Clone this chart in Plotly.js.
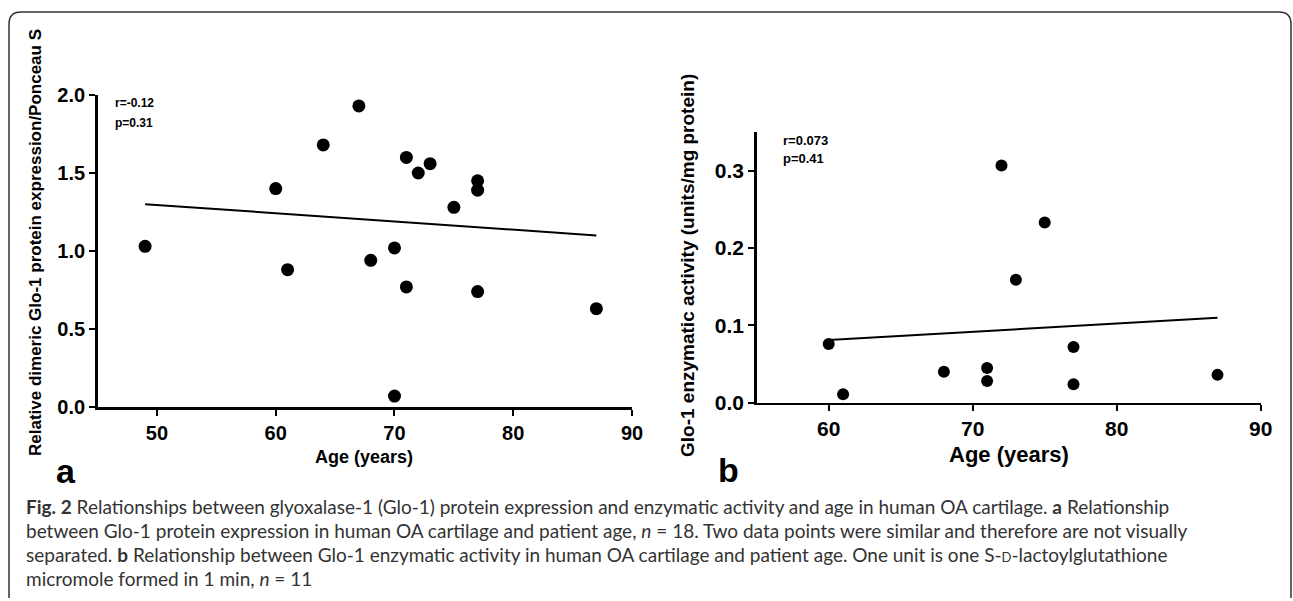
<!DOCTYPE html>
<html>
<head>
<meta charset="utf-8">
<script src="https://cdn.plot.ly/plotly-3.0.1.min.js"></script>
<style>
  html, body { margin: 0; padding: 0; background: #ffffff; }
  #chart { width: 1293px; height: 601px; }
</style>
</head>
<body>
<div id="chart"></div>
<script>
// ---- Data ----
// Panel a: Glo-1 protein expression vs age
const ageA = [49, 60, 61, 64, 67, 68, 70, 70, 71, 71, 72, 73, 75, 77, 77, 77, 87];
const gloA = [1.03, 1.40, 0.88, 1.68, 1.93, 0.94, 1.02, 0.07, 1.60, 0.77, 1.50, 1.56, 1.28, 1.45, 1.39, 0.74, 0.63];
const fitAgeA = [49, 87];
const fitGloA = [1.30, 1.10];
const xTicksA = [50, 60, 70, 80, 90];
const yTicksA = [0.0, 0.5, 1.0, 1.5, 2.0];

// Panel b: Glo-1 enzymatic activity vs age
const ageB = [60, 61, 68, 71, 71, 72, 73, 75, 77, 77, 87];
const actB = [0.076, 0.011, 0.040, 0.045, 0.028, 0.307, 0.159, 0.233, 0.072, 0.024, 0.036];
const fitAgeB = [60, 87];
const fitActB = [0.081, 0.110];
const xTicksB = [60, 70, 80, 90];
const yTicksB = [0.0, 0.1, 0.2, 0.3];

// Text
const statsA = ["r=-0.12", "p=0.31"];
const statsB = ["r=0.073", "p=0.41"];
const yTitleA = "Relative dimeric Glo-1 protein expression/Ponceau S";
const yTitleB = "Glo-1 enzymatic activity (units/mg protein)";
const xTitle = "Age (years)";
const captionLines = [
  "<b>Fig. 2</b> Relationships between glyoxalase-1 (Glo-1) protein expression and enzymatic activity and age in human OA cartilage. <b>a</b> Relationship",
  "between Glo-1 protein expression in human OA cartilage and patient age, <i>n</i> = 18. Two data points were similar and therefore are not visually",
  "separated. <b>b</b> Relationship between Glo-1 enzymatic activity in human OA cartilage and patient age. One unit is one S-<span style=\"font-size:13px\">D</span>-lactoylglutathione",
  "micromole formed in 1 min, <i>n</i> = 11"
];

// ---- Layout helpers (pixel -> paper) ----
const W = 1293, H = 601;
const px = v => v / W;
const py = v => 1 - v / H;
const SANS = "Liberation Sans, Arial, sans-serif";
const CAP = "Lato, Open Sans, sans-serif";

const traces = [
  { x: ageA, y: gloA, type: "scatter", mode: "markers", xaxis: "x", yaxis: "y",
    marker: { color: "#000", size: 13 }, cliponaxis: false, hoverinfo: "x+y" },
  { x: fitAgeA, y: fitGloA, type: "scatter", mode: "lines", xaxis: "x", yaxis: "y",
    line: { color: "#000", width: 2 }, hoverinfo: "skip" },
  { x: ageB, y: actB, type: "scatter", mode: "markers", xaxis: "x2", yaxis: "y2",
    marker: { color: "#000", size: 12 }, cliponaxis: false, hoverinfo: "x+y" },
  { x: fitAgeB, y: fitActB, type: "scatter", mode: "lines", xaxis: "x2", yaxis: "y2",
    line: { color: "#000", width: 2 }, hoverinfo: "skip" }
];

const axisCommon = {
  showline: true, linecolor: "#000", linewidth: 2.5,
  ticks: "outside", ticklen: 6, tickwidth: 2, tickcolor: "#000",
  showgrid: false, zeroline: false, automargin: false, fixedrange: true
};

const annotations = [];
function addText(text, x, y, size, opts) {
  annotations.push(Object.assign({
    text: text, x: px(x), y: py(y), xref: "paper", yref: "paper",
    showarrow: false, xanchor: "center", yanchor: "middle",
    font: { family: SANS, size: size, color: "#000", weight: "bold" }
  }, opts || {}));
}

// stats labels
addText(statsA[0], 113, 103, 12, { xanchor: "left" });
addText(statsA[1], 113, 123, 12, { xanchor: "left" });
addText(statsB[0], 781, 140, 13, { xanchor: "left" });
addText(statsB[1], 781, 158, 13, { xanchor: "left" });
// axis titles
addText(yTitleA, 36, 243, 17, { textangle: -90 });
addText(yTitleB, 687, 266, 19, { textangle: -90 });
addText(xTitle, 364, 457, 18);
addText(xTitle, 1009, 454, 22);
// panel letters
addText("a", 66, 471, 34);
addText("b", 728, 470, 34);
// caption
const capY = [506, 530, 554, 578];
captionLines.forEach((t, i) => {
  annotations.push({
    text: t, x: px(24), y: py(capY[i]), xref: "paper", yref: "paper",
    showarrow: false, xanchor: "left", yanchor: "middle", align: "left",
    font: { family: CAP, size: 19, color: "#333" }
  });
});

// frame with rounded top corners
const L = px(9), R = px(1291), T = py(12), B = py(598);
const rx = px(12), ry = 12 / H;
const framePath = `M ${L} ${B} L ${L} ${T - ry} Q ${L} ${T} ${L + rx} ${T} L ${R - rx} ${T} Q ${R} ${T} ${R} ${T - ry} L ${R} ${B}`;

const layout = {
  width: W, height: H, autosize: false,
  margin: { l: 0, r: 0, t: 0, b: 0, pad: 0 },
  paper_bgcolor: "#fff", plot_bgcolor: "#fff",
  showlegend: false,
  xaxis: Object.assign({}, axisCommon, {
    domain: [px(97.6), px(632)], range: [45, 90], anchor: "y",
    tickvals: xTicksA, tickfont: { family: SANS, size: 20, color: "#000", weight: "bold" }
  }),
  yaxis: Object.assign({}, axisCommon, {
    domain: [py(407), py(95)], range: [0, 2.0], anchor: "x",
    tickvals: yTicksA, tickformat: ".1f",
    tickfont: { family: SANS, size: 20, color: "#000", weight: "bold" }
  }),
  xaxis2: Object.assign({}, axisCommon, {
    domain: [px(756.7), px(1260.7)], range: [55, 90], anchor: "y2",
    tickvals: xTicksB, tickfont: { family: SANS, size: 21, color: "#000", weight: "bold" }
  }),
  yaxis2: Object.assign({}, axisCommon, {
    domain: [py(402.7), py(132.15)], range: [0, 0.35], anchor: "x2",
    tickvals: yTicksB, tickformat: ".1f",
    tickfont: { family: SANS, size: 21, color: "#000", weight: "bold" }
  }),
  annotations: annotations,
  shapes: [{
    type: "path", path: framePath, xref: "paper", yref: "paper",
    line: { color: "#333", width: 1.5 }
  }]
};

Plotly.newPlot("chart", traces, layout, { displayModeBar: false, staticPlot: true });
</script>
</body>
</html>
